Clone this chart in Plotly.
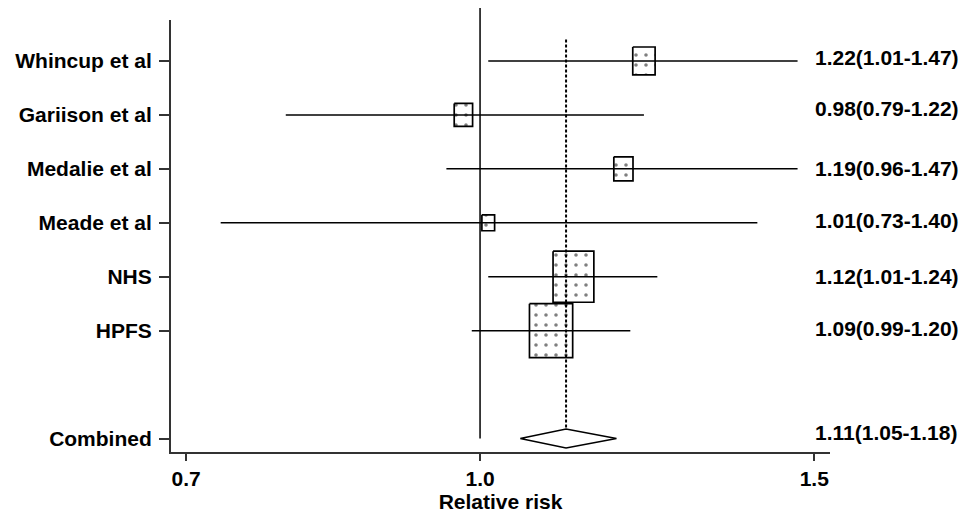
import math
import plotly.graph_objects as go

# ---- data ----
studies = ["Whincup et al", "Gariison et al", "Medalie et al", "Meade et al", "NHS", "HPFS"]
rr = [1.22, 0.98, 1.19, 1.01, 1.12, 1.09]
lo = [1.01, 0.79, 0.96, 0.73, 1.01, 0.99]
hi = [1.47, 1.22, 1.47, 1.40, 1.24, 1.20]
weights = [10.2, 6.9, 7.5, 3.3, 34.0, 38.1]   # relative study weight (%)
combined_label = "Combined"
combined_rr = 1.11
combined_lo = 1.05
combined_hi = 1.18
null_value = 1.0
x_ticks = [0.7, 1.0, 1.5]
x_tick_labels = ["0.7", "1.0", "1.5"]
x_title = "Relative risk"

# ---- layout constants (page body has an 8px margin) ----
W, H = 960, 509
ML, MR, MT, MB = 163, 138, 12, 65
x_lo, x_hi = 0.6873, 1.529
y_top, y_bot = -0.76, 7.25
plot_w = W - ML - MR
plot_h = H - MT - MB
px_per_ln = plot_w / (math.log(x_hi) - math.log(x_lo))
px_per_row = plot_h / (y_bot - y_top)

FONT = "Liberation Sans, Arial, sans-serif"
FS = 21
ink = "black"

row_y = list(range(len(studies)))
comb_y = len(studies) + 1

fig = go.Figure()

# boxes (size from weights)
max_w = max(weights)
for i, (r, w) in enumerate(zip(rr, weights)):
    h_px = 54 * math.sqrt(w / max_w)
    w_px = 0.8 * h_px
    hh = h_px / 2 / px_per_row
    hw = w_px / 2 / px_per_ln
    x0, x1 = r * math.exp(-hw), r * math.exp(hw)
    y = row_y[i]
    fig.add_trace(go.Scatter(
        x=[x0, x1, x1, x0, x0], y=[y - hh, y - hh, y + hh, y + hh, y - hh],
        mode="lines", fill="toself",
        fillcolor="white",
        fillpattern=dict(shape=".", fgcolor="black", bgcolor="white", size=10, solidity=0.1),
        line=dict(color=ink, width=1.7), hoverinfo="skip", showlegend=False))

# CI lines
cx, cy = [], []
for i in range(len(studies)):
    cx += [lo[i], hi[i], None]
    cy += [row_y[i], row_y[i], None]
fig.add_trace(go.Scatter(x=cx, y=cy, mode="lines", line=dict(color=ink, width=1.5),
                         hoverinfo="skip", showlegend=False))

# diamond
dh = 9.5 / px_per_row
fig.add_trace(go.Scatter(
    x=[combined_lo, combined_rr, combined_hi, combined_rr, combined_lo],
    y=[comb_y, comb_y - dh, comb_y, comb_y + dh, comb_y],
    mode="lines", fill="toself", fillcolor="white",
    line=dict(color=ink, width=1.5), hoverinfo="skip", showlegend=False))

# dotted line at combined estimate
fig.add_trace(go.Scatter(
    x=[combined_rr, combined_rr], y=[-0.4, comb_y - dh], mode="lines",
    line=dict(color=ink, width=2, dash="3px,2px"), hoverinfo="skip", showlegend=False))

# null line at 1.0 (extends above plot top)
null_frac = (math.log(null_value) - math.log(x_lo)) / (math.log(x_hi) - math.log(x_lo))
fig.add_shape(type="line", xref="paper", yref="paper",
              x0=null_frac, x1=null_frac,
              y0=(y_bot - comb_y) / (y_bot - y_top),
              y1=1 + 12 / plot_h,
              line=dict(color=ink, width=1.5))

# right-hand labels
labels = [f"{r:.2f}({l:.2f}-{h:.2f})" for r, l, h in zip(rr, lo, hi)]
shifts = [3, 6, 0, 2, 0, 2]
for i, t in enumerate(labels):
    fig.add_annotation(x=(813 - 171) / plot_w, xref="paper", y=row_y[i], yref="y",
                       text=t, showarrow=False, xanchor="left", yshift=shifts[i],
                       font=dict(family=FONT, size=FS, color=ink, weight="bold"))
fig.add_annotation(x=(813 - 171) / plot_w, xref="paper", y=comb_y, yref="y",
                   text=f"{combined_rr:.2f}({combined_lo:.2f}-{combined_hi:.2f})",
                   showarrow=False, xanchor="left", yshift=6,
                   font=dict(family=FONT, size=FS, color=ink, weight="bold"))

fig.update_layout(
    width=W, height=H,
    margin=dict(l=ML, r=MR, t=MT, b=MB, pad=0, autoexpand=False),
    paper_bgcolor="white", plot_bgcolor="white",
    font=dict(family=FONT, size=FS, color=ink, weight="bold"),
    showlegend=False,
    xaxis=dict(type="log", range=[math.log10(x_lo), math.log10(x_hi)],
               tickvals=x_ticks, ticktext=x_tick_labels, automargin=False,
               showline=True, linecolor="#333", linewidth=2,
               ticks="outside", ticklen=7, tickwidth=1.5, tickcolor="#333",
               showgrid=False, zeroline=False,
               title=dict(text=x_title, standoff=0,
                          font=dict(family=FONT, size=FS, color=ink, weight="bold"))),
    yaxis=dict(range=[y_bot, y_top], automargin=False,
               tickvals=row_y + [comb_y], ticktext=studies + [combined_label],
               showline=True, linecolor="#333", linewidth=2,
               ticks="outside", ticklen=10, tickwidth=1.5, tickcolor="#333",
               ticklabelstandoff=3,
               showgrid=False, zeroline=False),
)

fig.write_html("out.html")
